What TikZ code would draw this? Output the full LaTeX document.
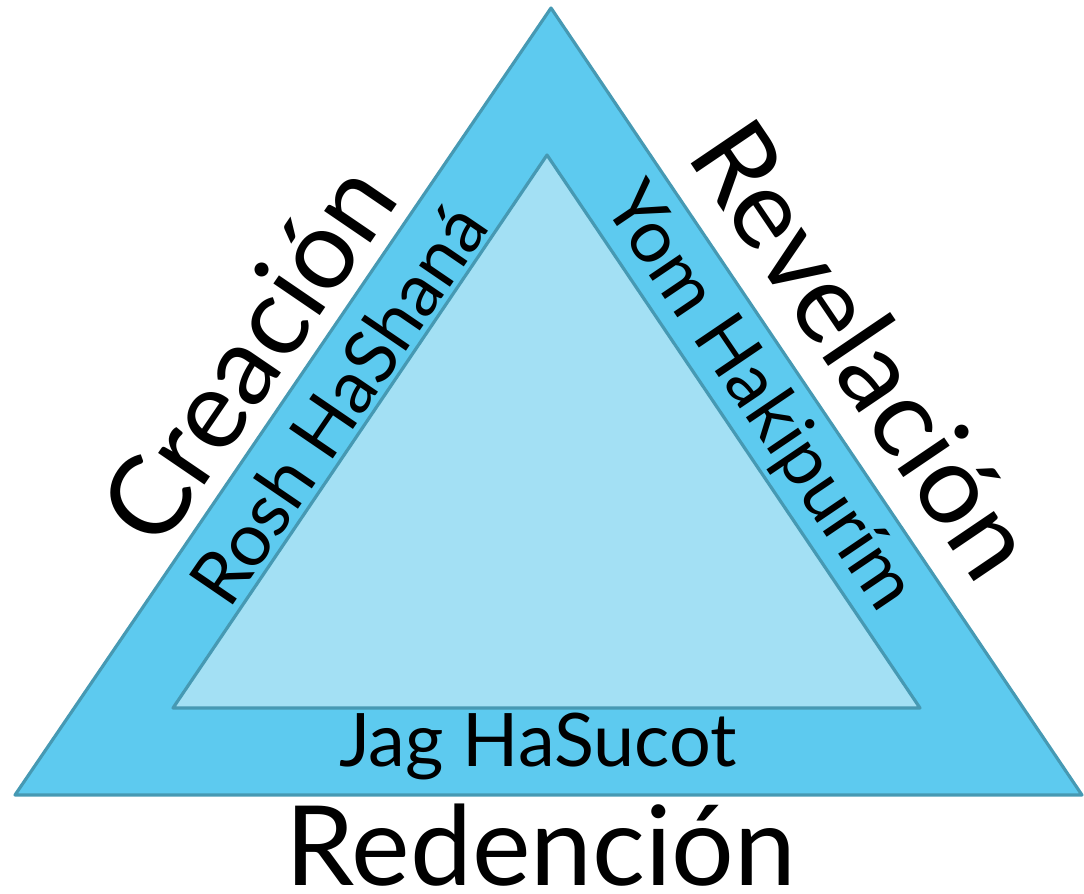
\documentclass[tikz,border=0pt]{standalone}
\usepackage{fontspec}
\setmainfont{Lato}
\definecolor{outerfill}{HTML}{5DCAEF}
\definecolor{innerfill}{HTML}{A3E0F4}
\definecolor{edge}{HTML}{4699B3}
\begin{document}
\begin{tikzpicture}[x=0.01cm,y=-0.01cm,
  tri/.style={draw=edge,line width=0.9pt,line join=round},
  big/.style={inner sep=0pt,font=\fontsize{31.5}{36}\selectfont},
  small/.style={inner sep=0pt,font=\fontsize{21}{25}\selectfont}]
\useasboundingbox (0,0) rectangle (1084,894);
\coordinate (o1) at (15,795);
\coordinate (o2) at (551,8);
\coordinate (o3) at (1082,795);
\coordinate (i1) at (173,708);
\coordinate (i2) at (547,155);
\coordinate (i3) at (920,708);
\fill[outerfill] (o1) -- (o2) -- (o3) -- cycle;
\draw[tri] (o1) -- (o2) -- (o3) -- cycle;
\fill[innerfill] (i1) -- (i2) -- (i3) -- cycle;
\draw[tri] (i1) -- (i2) -- (i3) -- cycle;
\node[big,rotate=55.7] (cre) at (247,353) {Creación};
\node[big,rotate=-55.9] (rev) at (865,349) {Revelación};
\node[big] (red) at (541,845) {Redención};
\node[small,rotate=55.7] (rosh) at (338,404) {Rosh HaShaná};
\node[small,rotate=-55.9] (yom) at (758,398) {Yom Hakipurím};
\node[small] (jag) at (538,746) {Jag HaSucot};
\end{tikzpicture}
\end{document}
